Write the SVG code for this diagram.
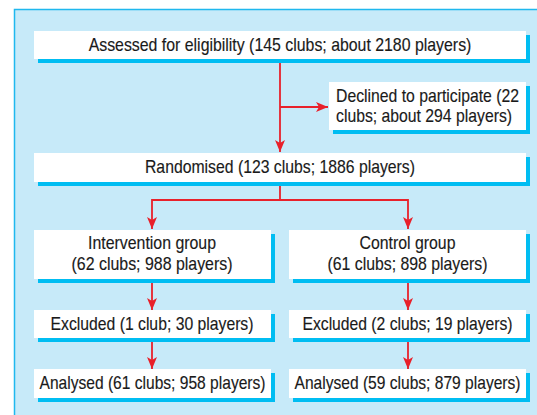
<svg xmlns="http://www.w3.org/2000/svg" width="537" height="415" viewBox="0 0 537 415">
<defs>
<style>
.panel{fill:#c7eaf9;stroke:#1fb8ee;stroke-width:1.5}
.sh{fill:#00bdf2}
.bx{fill:#ffffff}
.t{font-family:"Liberation Sans",Arial,sans-serif;font-size:18px;fill:#1a1a1a;stroke:#1a1a1a;stroke-width:0.15;text-anchor:middle}
.tl{text-anchor:start}
.c{fill:none;stroke:#e8212b;stroke-width:1.8}
</style>
<marker id="ah" viewBox="0 0 12 10" refX="12" refY="5" markerWidth="12" markerHeight="10" orient="auto" markerUnits="userSpaceOnUse">
<path d="M0,0 L12,5 L0,10 L3,5 z" fill="#e8212b"/>
</marker>
</defs>
<rect class="panel" x="14.5" y="9.5" width="540" height="420"/>
<g id="connectors">
<path class="c" d="M280,60 V152" marker-end="url(#ah)"/>
<path class="c" d="M280,107 H328" marker-end="url(#ah)"/>
<path class="c" d="M280,183 V200 H152 V229" marker-end="url(#ah)"/>
<path class="c" d="M280,200 H408 V229" marker-end="url(#ah)"/>
<path class="c" d="M152,281 V310" marker-end="url(#ah)"/>
<path class="c" d="M408,281 V310" marker-end="url(#ah)"/>
<path class="c" d="M152,339 V369" marker-end="url(#ah)"/>
<path class="c" d="M408,339 V369" marker-end="url(#ah)"/>
</g>
<g id="assessed">
<rect class="sh" x="38" y="35" width="492" height="28"/>
<rect class="bx" x="34" y="31" width="492" height="28"/>
<text class="t" transform="matrix(0.86 0 0 1 280 0)" x="0" y="51.5" textLength="445" lengthAdjust="spacingAndGlyphs">Assessed for eligibility (145 clubs; about 2180 players)</text>
</g>
<g id="declined">
<rect class="sh" x="333" y="86" width="197" height="48"/>
<rect class="bx" x="329" y="82" width="197" height="48"/>
<text class="t tl" transform="matrix(0.86 0 0 1 336 0)" x="0" y="102.5" textLength="212.8" lengthAdjust="spacingAndGlyphs">Declined to participate (22</text>
<text class="t tl" transform="matrix(0.86 0 0 1 336 0)" x="0" y="122.5" textLength="204.7" lengthAdjust="spacingAndGlyphs">clubs; about 294 players)</text>
</g>
<g id="randomised">
<rect class="sh" x="38" y="157" width="492" height="29"/>
<rect class="bx" x="34" y="153" width="492" height="29"/>
<text class="t" transform="matrix(0.86 0 0 1 280 0)" x="0" y="173.5" textLength="314" lengthAdjust="spacingAndGlyphs">Randomised (123 clubs; 1886 players)</text>
</g>
<g id="intervention">
<rect class="sh" x="38" y="234" width="237" height="49"/>
<rect class="bx" x="34" y="230" width="237" height="49"/>
<text class="t" transform="matrix(0.86 0 0 1 152 0)" x="0" y="249.5" textLength="148.8" lengthAdjust="spacingAndGlyphs">Intervention group</text>
<text class="t" transform="matrix(0.86 0 0 1 152 0)" x="0" y="270.5" textLength="187.2" lengthAdjust="spacingAndGlyphs">(62 clubs; 988 players)</text>
</g>
<g id="control">
<rect class="sh" x="293" y="234" width="237" height="49"/>
<rect class="bx" x="289" y="230" width="237" height="49"/>
<text class="t" transform="matrix(0.86 0 0 1 407.5 0)" x="0" y="249.5" textLength="111.6" lengthAdjust="spacingAndGlyphs">Control group</text>
<text class="t" transform="matrix(0.86 0 0 1 407.5 0)" x="0" y="270.5" textLength="186" lengthAdjust="spacingAndGlyphs">(61 clubs; 898 players)</text>
</g>
<g id="excluded-intervention">
<rect class="sh" x="38" y="314" width="237" height="28"/>
<rect class="bx" x="34" y="310" width="237" height="28"/>
<text class="t" transform="matrix(0.86 0 0 1 152 0)" x="0" y="330.5" textLength="236" lengthAdjust="spacingAndGlyphs">Excluded (1 club; 30 players)</text>
</g>
<g id="excluded-control">
<rect class="sh" x="293" y="314" width="237" height="28"/>
<rect class="bx" x="289" y="310" width="237" height="28"/>
<text class="t" transform="matrix(0.86 0 0 1 407.5 0)" x="0" y="330.5" textLength="244.2" lengthAdjust="spacingAndGlyphs">Excluded (2 clubs; 19 players)</text>
</g>
<g id="analysed-intervention">
<rect class="sh" x="38" y="373" width="237" height="29"/>
<rect class="bx" x="34" y="369" width="237" height="29"/>
<text class="t" transform="matrix(0.86 0 0 1 152.5 0)" x="0" y="389.5" textLength="262.8" lengthAdjust="spacingAndGlyphs">Analysed (61 clubs; 958 players)</text>
</g>
<g id="analysed-control">
<rect class="sh" x="293" y="373" width="237" height="29"/>
<rect class="bx" x="289" y="369" width="237" height="29"/>
<text class="t" transform="matrix(0.86 0 0 1 407.5 0)" x="0" y="389.5" textLength="262.8" lengthAdjust="spacingAndGlyphs">Analysed (59 clubs; 879 players)</text>
</g>
</svg>
